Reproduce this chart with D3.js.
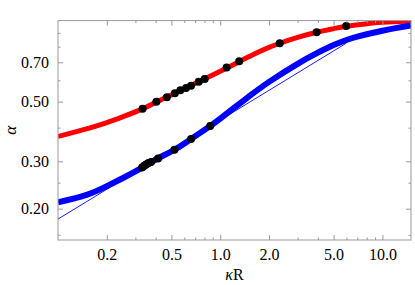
<!DOCTYPE html>
<html><head><meta charset="utf-8">
<script src="https://cdn.jsdelivr.net/npm/d3@7"></script>
<style>
html,body{margin:0;padding:0;background:#fff;}
svg text{font-family:"Liberation Serif","Times New Roman","DejaVu Serif",serif !important;fill:#000;}
</style></head>
<body>
<svg id="c" width="415" height="285"></svg>
<script>
// Data
const redCurveX = [0.1,0.15,0.2,0.25,0.332,0.4,0.5,0.6,0.7,0.8,1.0,1.3,1.6,2.0,2.5,3.0,4.0,5.0,6.0,8.0,10.0,15.0];
const redCurveY = [0.371,0.396,0.418,0.439,0.470,0.497,0.5295,0.5585,0.5835,0.607,0.648,0.702,0.748,0.795,0.836,0.867,0.907,0.934,0.953,0.974,0.985,0.997];
const redDotsX = [0.332,0.404,0.469,0.525,0.568,0.616,0.661,0.737,0.802,1.095,1.309,2.328,3.93,5.98];
const redDotsY = [0.470,0.499,0.519,0.537,0.551,0.562,0.573,0.592,0.607,0.669,0.706,0.824,0.905,0.955];
const blueCurveX = [0.1,0.15,0.2,0.25,0.3,0.35,0.414,0.522,0.661,0.868,1.0,1.2,1.5,2.0,3.0,4.0,5.0,6.0,7.0,10.0,15.0];
const blueCurveY = [0.211,0.225,0.2425,0.2595,0.275,0.2903,0.308,0.331,0.363,0.406,0.432,0.471,0.522,0.592,0.691,0.760,0.811,0.847,0.872,0.917,0.959];
const blueDotsX = [0.330,0.340,0.349,0.361,0.375,0.414,0.522,0.661,0.868];
const blueDotsY = [0.2845,0.2887,0.292,0.2955,0.298,0.307,0.331,0.363,0.406];
const fitLineX = [0.1,5.98];
const fitLineY = [0.183,0.824];
const xMajor = [0.2,0.5,1,2,5,10];
const xMajorLabels = ["0.2","0.5","1.0","2.0","5.0","10.0"];
const xMinor = [0.3,0.4,0.6,0.7,0.8,0.9,3,4,6,7,8,9];
const yMajor = [0.2,0.3,0.5,0.7];
const yMajorLabels = ["0.20","0.30","0.50","0.70"];
const yMinor = [0.16,0.25,0.4,0.6,0.8,0.9];

const FONT = "'Liberation Serif','Times New Roman','DejaVu Serif',serif";
const L=58, R=411, T=20.6, B=240;
const svg = d3.select("#c");
const x = d3.scaleLog().domain([0.1,15]).range([L,R]);
const y = d3.scaleLog().domain([0.153,1]).range([B,T]);

svg.append("defs").append("clipPath").attr("id","clip")
  .append("rect").attr("x",L).attr("y",T).attr("width",R-L).attr("height",B-T);

const g = svg.append("g").attr("clip-path","url(#clip)");
const line = d3.line().x(d=>x(d[0])).y(d=>y(d[1])).curve(d3.curveNatural);
const zip = (a,b)=>a.map((v,i)=>[v,b[i]]);

g.append("path").datum(zip(redCurveX,redCurveY)).attr("d",line)
  .attr("fill","none").attr("stroke","#ff0000").attr("stroke-width",5);
g.append("path").datum(zip(blueCurveX,blueCurveY)).attr("d",line)
  .attr("fill","none").attr("stroke","#0000ff").attr("stroke-width",6);
g.append("path").datum(zip(fitLineX,fitLineY)).attr("d",d3.line().x(d=>x(d[0])).y(d=>y(d[1])))
  .attr("fill","none").attr("stroke","#0000ff").attr("stroke-width",0.9);

g.selectAll("circle.r").data(zip(redDotsX,redDotsY)).enter().append("circle")
  .attr("cx",d=>x(d[0])).attr("cy",d=>y(d[1])).attr("r",4).attr("fill","#000");
g.selectAll("circle.b").data(zip(blueDotsX,blueDotsY)).enter().append("circle")
  .attr("cx",d=>x(d[0])).attr("cy",d=>y(d[1])).attr("r",4).attr("fill","#000");

// frame
svg.append("rect").attr("x",L).attr("y",T).attr("width",R-L).attr("height",B-T)
  .attr("fill","none").attr("stroke","#999").attr("stroke-width",1);

const fmt = (labels, vals)=> (d)=>{const i=vals.indexOf(d); return i>=0?labels[i]:"";};
function styleAxis(sel){
  sel.attr("font-family",FONT).attr("font-size",16);
  sel.select(".domain").remove();
  sel.selectAll(".tick line").attr("stroke","#999");
  sel.selectAll(".tick text").attr("fill","#000").style("font-size","16px");
}
function axisPair(axisFn, pos, isX, labelled){
  const tr = isX ? `translate(0,${pos})` : `translate(${pos},0)`;
  const a = axisFn(isX?x:y).tickValues(isX?xMajor:yMajor).tickSize(-5).tickPadding(9)
    .tickFormat(labelled ? fmt(isX?xMajorLabels:yMajorLabels, isX?xMajor:yMajor) : "");
  svg.append("g").attr("transform",tr).call(a).call(styleAxis);
  const m = axisFn(isX?x:y).tickValues(isX?xMinor:yMinor).tickSize(-2.5).tickFormat("");
  svg.append("g").attr("transform",tr).call(m).call(styleAxis);
}
axisPair(d3.axisBottom, B, true, true);
axisPair(d3.axisTop, T, true, false);
axisPair(d3.axisLeft, L, false, true);
axisPair(d3.axisRight, R, false, false);

// axis labels
const xl = svg.append("text").attr("x",(L+R)/2).attr("y",280).attr("text-anchor","middle")
  .attr("font-family",FONT).style("font-size","16px");
xl.append("tspan").style("font-style","italic").text("κ");
xl.append("tspan").text("R");
svg.append("text").attr("transform",`translate(16,${(T+B)/2}) rotate(-90)`)
  .attr("font-family",FONT).attr("text-anchor","middle").style("font-size","17px").style("font-style","italic").text("α");
</script>
</body></html>
